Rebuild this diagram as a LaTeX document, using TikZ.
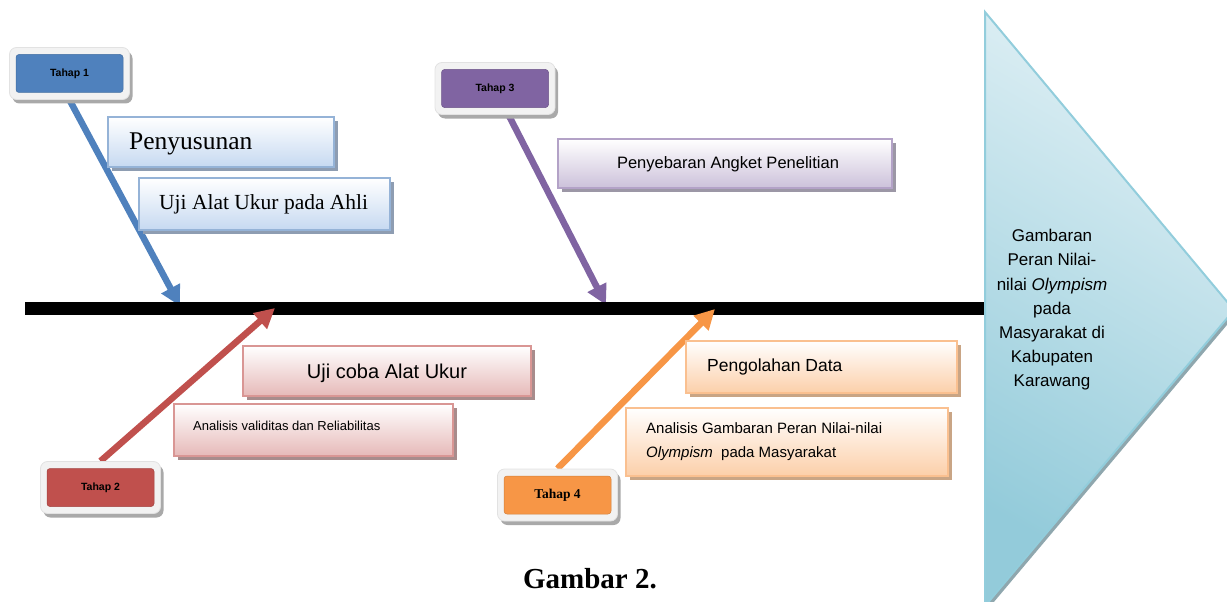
\documentclass[tikz,border=0pt]{standalone}
\usepackage{fontspec}
\setmainfont{Liberation Serif}
\setsansfont{Liberation Sans}
\usetikzlibrary{arrows.meta,shadows,backgrounds,calc}
\definecolor{tblue}{HTML}{4F81BD}
\definecolor{tred}{HTML}{C0504D}
\definecolor{tpurple}{HTML}{8064A2}
\definecolor{torange}{HTML}{F79646}
\definecolor{bbot}{HTML}{C6D9F1}
\definecolor{bbrd}{HTML}{95B3D7}
\definecolor{bshd}{HTML}{8E9DB2}
\definecolor{rbot}{HTML}{E6B9B8}
\definecolor{rbrd}{HTML}{D99694}
\definecolor{rshd}{HTML}{A88C8C}
\definecolor{pbot}{HTML}{CCC1DA}
\definecolor{pbrd}{HTML}{B3A2C7}
\definecolor{pshd}{HTML}{9C97A6}
\definecolor{obot}{HTML}{FCCFA9}
\definecolor{obrd}{HTML}{FAC090}
\definecolor{oshd}{HTML}{C9A585}
\definecolor{outerfill}{HTML}{F2F2F2}
\definecolor{outerdraw}{HTML}{E2E2E2}
\definecolor{outershadow}{HTML}{A9A9A9}
\definecolor{trilight}{HTML}{E0F0F5}
\definecolor{tridark}{HTML}{93CBDA}
\definecolor{triborder}{HTML}{92CDDC}
\definecolor{trishadow}{HTML}{8FA7AE}
\begin{document}
\begin{tikzpicture}[x=1pt,y=-1pt,
  stepouter/.style={rounded corners=7pt, fill=outerfill, draw=outerdraw, line width=0.8pt,
    minimum width=120pt, minimum height=52pt, inner sep=0pt,
    drop shadow={shadow xshift=3pt, shadow yshift=-4pt, fill=outershadow, opacity=1}},
  stepinner/.style={rounded corners=3pt, fill=#1, draw=#1!85!black, line width=0.5pt,
    minimum width=107pt, minimum height=38pt, inner sep=0pt, text=black,
    font=\sffamily\bfseries\fontsize{10.5}{12}\selectfont},
  infobox/.style n args={3}{anchor=north west, inner sep=0pt, top color=white, bottom color=#1,
    draw=#2, line width=2pt,
    drop shadow={shadow xshift=4pt, shadow yshift=-4pt, fill=#3, opacity=1}},
  bonearrow/.style={line width=6.5pt, draw=#1, fill=#1, -{Triangle[length=20pt,width=20pt]}},
  txt/.style={inner sep=0pt, text=black},
]
\useasboundingbox (0,0) rectangle (1227,602);
\clip (0,0) rectangle (1227,602);

% goal triangle (head of the fishbone)
\fill[trishadow] (988,15) -- (1237,313) -- (988,609) -- cycle;
\shade[top color=trilight, bottom color=tridark, shading angle=-30]
  (985,12) -- (1234,310) -- (985,606) -- cycle;
\draw[triborder, line width=2pt, line join=miter] (985,12) -- (1234,310) -- (985,606) -- cycle;
\node[txt, align=center, font=\sffamily\fontsize{17}{24.2}\selectfont] (goal) at (1052,310)
  {Gambaran\\Peran Nilai-\\nilai \textit{Olympism}\\pada\\Masyarakat di\\Kabupaten\\Karawang};

% spine coordinates and arrow tips
\coordinate (s0) at (25,308.5);
\coordinate (s1) at (985,308.5);
\coordinate (a1) at (180,306);
\coordinate (a2) at (275,308);
\coordinate (a3) at (606,305);
\coordinate (a4) at (715,309);

% content boxes
\node[infobox={bbot}{bbrd}{bshd}, minimum width=226pt, minimum height=50pt] (b1) at (107,116) {};
\node[infobox={bbot}{bbrd}{bshd}, minimum width=251pt, minimum height=52pt] (b2) at (138,177) {};
\node[infobox={pbot}{pbrd}{pshd}, minimum width=334pt, minimum height=49pt] (b3) at (557,138) {};
\node[infobox={rbot}{rbrd}{rshd}, minimum width=288pt, minimum height=50pt] (b4) at (242,345) {};
\node[infobox={rbot}{rbrd}{rshd}, minimum width=279pt, minimum height=52pt] (b5) at (173,403) {};
\node[infobox={obot}{obrd}{oshd}, minimum width=271pt, minimum height=52pt] (b6) at (685,340) {};
\node[infobox={obot}{obrd}{oshd}, minimum width=322pt, minimum height=68pt] (b7) at (625,407) {};

% texts of the boxes
\node[txt, anchor=base west, font=\fontsize{25.5}{30}\selectfont] (b1t) at (129,149) {Penyusunan};
\node[txt, anchor=base west, font=\fontsize{21.5}{26}\selectfont] (b2t) at (159,209) {Uji Alat Ukur pada Ahli};
\node[txt, anchor=base, font=\sffamily\fontsize{16.5}{20}\selectfont] (b3t) at (728,168) {Penyebaran Angket Penelitian};
\node[txt, anchor=base, font=\sffamily\fontsize{20}{24}\selectfont] (b4t) at (387,378) {Uji coba Alat Ukur};
\node[txt, anchor=base west, font=\sffamily\fontsize{13}{16}\selectfont] (b5t) at (193,430) {Analisis validitas dan Reliabilitas};
\node[txt, anchor=base west, font=\sffamily\fontsize{17.5}{21}\selectfont] (b6t) at (707,371) {Pengolahan Data};
\node[txt, anchor=base west, font=\sffamily\fontsize{15}{18}\selectfont] (b7t) at (646,433) {Analisis Gambaran Peran Nilai-nilai};
\node[txt, anchor=base west, font=\sffamily\fontsize{15}{18}\selectfont] (b7u) at (646,457) {\textit{Olympism}\ \ pada Masyarakat};

% stage boxes
\node[stepouter] (t1) at (69.5,73.5) {};
\node[stepinner=tblue] (t1i) at (t1.center) {Tahap 1};
\node[stepouter] (t3) at (495,88.5) {};
\node[stepinner=tpurple] (t3i) at (t3.center) {Tahap 3};
\node[stepouter] (t2) at (100.5,487.5) {};
\node[stepinner=tred] (t2i) at (t2.center) {Tahap 2};
\node[stepouter] (t4) at (557.5,495) {};
\node[stepinner=torange, font=\rmfamily\bfseries\fontsize{13.5}{16}\selectfont] (t4i) at (t4.center) {Tahap 4};

% caption
\node[txt, anchor=base, font=\bfseries\fontsize{29}{34}\selectfont] (cap) at (590,588) {Gambar 2.};

% bones and spine, behind the boxes
\begin{pgfonlayer}{background}
  \draw[bonearrow=tblue] (t1.south) -- (a1);
  \draw[bonearrow=tpurple] (t3.center) -- (a3);
  \draw[line width=13pt, black] (s0) -- (s1);
  \draw[bonearrow=tred] (t2.north) -- (a2);
  \draw[bonearrow=torange] (t4.north) -- (a4);
\end{pgfonlayer}
\end{tikzpicture}
\end{document}
